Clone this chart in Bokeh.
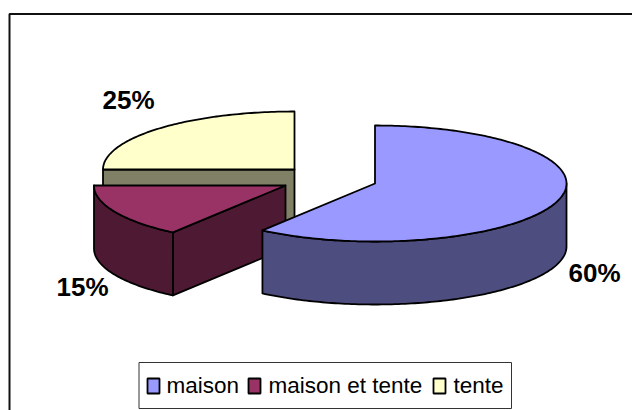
import numpy as np
from bokeh.plotting import figure
from bokeh.models import Range1d
from bokeh.core.properties import value
from bokeh.embed import file_html
from bokeh.resources import INLINE

categories = ["maison", "maison et tente", "tente"]
shares = [60, 15, 25]
top_colors = ["#9999ff", "#993366", "#ffffcc"]
side_colors = ["#4d4d80", "#4d1933", "#808066"]

# layout (page pixels)
centers = [(374.5, 183.0), (285.0, 185.0), (294.0, 169.0)]
RX, RY, DEPTH = 191.5, 58.0, 63.0
label_pos = [(568, 272), (56, 286), (102, 99)]
swatch_x = [147, 248, 433]
text_x = [166, 268, 453]

p = figure(width=632, height=410, output_backend="svg", toolbar_location=None,
           x_range=Range1d(0, 632), y_range=Range1d(410, 0),
           x_axis_location=None, y_axis_location=None, min_border=0,
           outline_line_color=None, background_fill_color="white")
p.grid.visible = False

# chart frame
p.line([9, 9, 632], [410, 13.5, 13.5], line_color="#111111", line_width=2)


def rim(c, a0, a1):
    t = np.radians(np.linspace(a0, a1, max(3, int(abs(a1 - a0)) + 1)))
    return c[0] + RX * np.sin(t), c[1] - RY * np.cos(t)


cum = np.cumsum([0] + shares) * 3.6
LW = 1.8
for i in [2, 1, 0]:
    c, a0, a1 = centers[i], cum[i], cum[i + 1]
    # visible cut face at the start of the slice
    if -np.sin(np.radians(a0)) > 1e-6:
        ex, ey = rim(c, a0, a0 + 1e-6)
        xs = [c[0], ex[0], ex[0], c[0]]
        ys = [c[1], ey[0], ey[0] + DEPTH, c[1] + DEPTH]
        p.patch(xs, ys, fill_color=side_colors[i], line_color="black", line_width=LW, line_join="round")
    # visible outer wall
    b0, b1 = max(a0, 90), min(a1, 270)
    if b1 > b0:
        rx, ry = rim(c, b0, b1)
        xs = np.r_[rx, rx[::-1]]
        ys = np.r_[ry, ry[::-1] + DEPTH]
        p.patch(xs, ys, fill_color=side_colors[i], line_color="black", line_width=LW, line_join="round")
    # top face
    rx, ry = rim(c, a0, a1)
    p.patch(np.r_[c[0], rx], np.r_[c[1], ry], fill_color=top_colors[i],
            line_color="black", line_width=LW, line_join="round")

# data labels
p.text([q[0] for q in label_pos], [q[1] for q in label_pos], text=[f"{v}%" for v in shares],
       text_font=value("Liberation Sans"), text_font_style="bold", text_font_size="26px",
       text_color="black", text_baseline="alphabetic", text_align="left")

# legend
p.quad(left=[138.5], right=[511], top=[362], bottom=[408], fill_color="white",
       line_color="#333333", line_width=1)
p.quad(left=swatch_x, right=[x + 12 for x in swatch_x], top=[378] * 3, bottom=[393] * 3,
       fill_color=top_colors, line_color="black", line_width=1.8)
p.text(text_x, [385] * 3, text=categories, text_font=value("Liberation Sans"),
       text_font_size="22.5px", text_color="black", text_baseline="alphabetic", text_align="left")

open("out.html", "w").write(file_html(p, INLINE))
